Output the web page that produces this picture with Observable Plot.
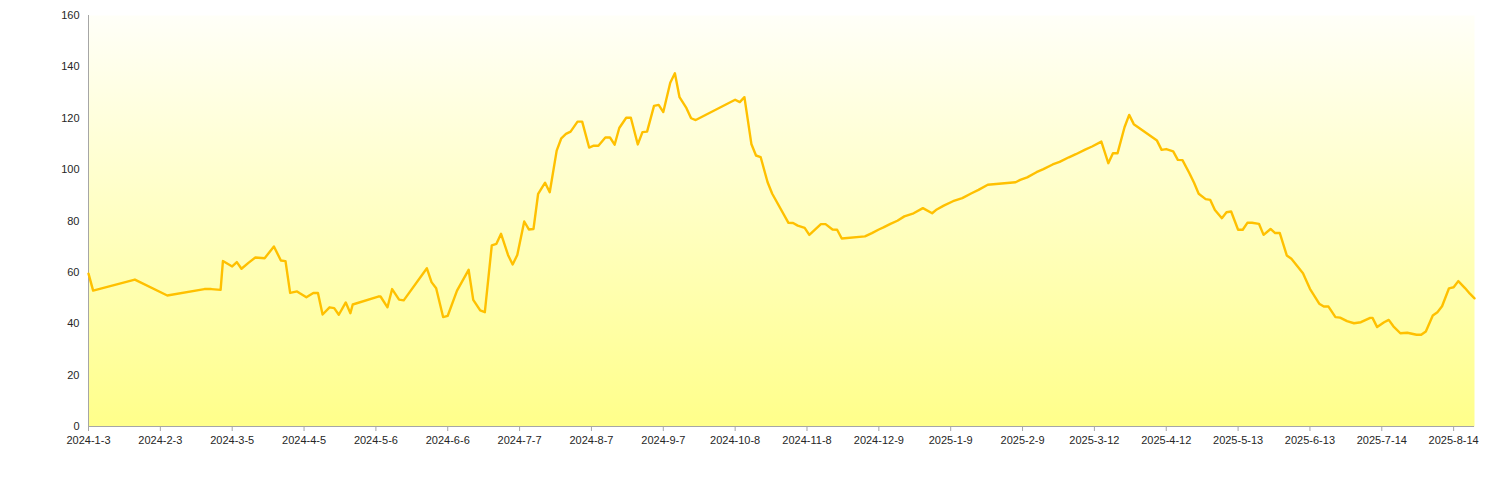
<!DOCTYPE html>
<html>
<head>
<meta charset="utf-8">
<script src="https://cdn.jsdelivr.net/npm/d3@7"></script>
<script src="https://cdn.jsdelivr.net/npm/@observablehq/plot@0.6"></script>
<style>
  html, body { margin: 0; padding: 0; background: #ffffff; }
  #chart { width: 1500px; height: 504px; }
  svg { display: block; }
</style>
</head>
<body>
<div id="chart"></div>
<script>
const dates = [
  "2024-01-03","2024-01-05","2024-01-23","2024-02-06","2024-02-22","2024-02-25","2024-02-29",
  "2024-03-01","2024-03-05","2024-03-07","2024-03-09","2024-03-12","2024-03-15","2024-03-19",
  "2024-03-23","2024-03-26","2024-03-28","2024-03-30","2024-04-02","2024-04-03","2024-04-06",
  "2024-04-09","2024-04-11","2024-04-13","2024-04-16","2024-04-18","2024-04-20","2024-04-23",
  "2024-04-25","2024-04-26","2024-05-07","2024-05-08","2024-05-11","2024-05-13","2024-05-16",
  "2024-05-18","2024-05-28","2024-05-30","2024-06-01","2024-06-04","2024-06-06","2024-06-10",
  "2024-06-15","2024-06-17","2024-06-20","2024-06-22","2024-06-25","2024-06-27","2024-06-29",
  "2024-07-02","2024-07-04","2024-07-06","2024-07-09","2024-07-11","2024-07-13","2024-07-15",
  "2024-07-18","2024-07-20","2024-07-23","2024-07-25","2024-07-27","2024-07-29","2024-08-01",
  "2024-08-03","2024-08-06","2024-08-08","2024-08-10","2024-08-13","2024-08-15","2024-08-17",
  "2024-08-19","2024-08-22","2024-08-24","2024-08-27","2024-08-29","2024-08-31","2024-09-03",
  "2024-09-05","2024-09-07","2024-09-10","2024-09-12","2024-09-14","2024-09-17","2024-09-19",
  "2024-09-21","2024-10-08","2024-10-10","2024-10-12","2024-10-15","2024-10-17","2024-10-19",
  "2024-10-22","2024-10-24","2024-10-31","2024-11-02","2024-11-04","2024-11-07","2024-11-09",
  "2024-11-14","2024-11-16","2024-11-19","2024-11-21","2024-11-23","2024-12-03","2024-12-06",
  "2024-12-09","2024-12-11","2024-12-14","2024-12-17","2024-12-20","2024-12-24","2024-12-28",
  "2025-01-01","2025-01-03","2025-01-06","2025-01-10","2025-01-14","2025-01-18","2025-01-21",
  "2025-01-25","2025-02-06","2025-02-08","2025-02-11","2025-02-15","2025-02-18","2025-02-22",
  "2025-02-25","2025-03-01","2025-03-04","2025-03-08","2025-03-11","2025-03-15","2025-03-18",
  "2025-03-20","2025-03-22","2025-03-25","2025-03-27","2025-03-29","2025-04-08","2025-04-10",
  "2025-04-12","2025-04-15","2025-04-17","2025-04-19","2025-04-22","2025-04-24","2025-04-26",
  "2025-04-29","2025-05-01","2025-05-03","2025-05-06","2025-05-08","2025-05-10","2025-05-13",
  "2025-05-15","2025-05-17","2025-05-19","2025-05-22","2025-05-24","2025-05-27","2025-05-29",
  "2025-05-31","2025-06-03","2025-06-05","2025-06-10","2025-06-13","2025-06-17","2025-06-19",
  "2025-06-21","2025-06-24","2025-06-26","2025-06-29","2025-07-02","2025-07-05","2025-07-09",
  "2025-07-10","2025-07-12","2025-07-15","2025-07-17","2025-07-19","2025-07-22","2025-07-25",
  "2025-07-29","2025-07-31","2025-08-02","2025-08-05","2025-08-07","2025-08-09","2025-08-12",
  "2025-08-14","2025-08-16","2025-08-19","2025-08-21","2025-08-23"
];
const values = [
  59.5,52.9,57.2,51,53.5,53.5,53.2,
  64.4,62.3,64,61.4,63.7,65.8,65.5,
  70.1,64.6,64.4,52,52.6,52,50.3,
  52,52,43.6,46.4,46.1,43.5,48.3,
  44.1,47.5,50.6,50.6,46.4,53.5,49.4,
  49.1,61.6,56.2,53.8,42.6,43.1,52.9,
  61,49.3,45.2,44.5,70.5,71.1,75,
  66.8,63.1,66.8,79.8,76.7,76.9,90.6,
  94.9,91.2,107.4,112.2,113.9,114.8,118.7,
  118.7,108.6,109.3,109.3,112.5,112.5,109.7,
  116.2,120.2,120.2,109.8,114.6,114.8,124.8,
  125.2,122.4,133.8,137.5,128.2,123.9,120,
  119.3,127.2,126.3,128.2,110,105.5,104.9,
  95.1,90.6,79.3,79.2,78.2,77.3,74.6,
  78.8,78.8,76.7,76.6,73.2,74,75.3,
  76.7,77.5,78.9,80.1,81.8,83,85,
  83,84.5,86,87.7,88.9,90.8,92.1,
  94.1,95.1,96,97,99,100.2,102,
  103,104.8,106,107.8,109,110.9,102.5,
  106.4,106.4,116.5,121.3,117.7,111.3,107.7,
  108,107.1,103.8,103.7,98.6,94.9,90.6,
  88.5,88.2,84.3,81.1,83.4,83.7,76.6,
  76.6,79.3,79.3,78.9,74.6,76.9,75.3,
  75.3,66.6,65.3,59.7,53.6,47.8,46.7,
  46.7,42.6,42.4,41,40.2,40.6,42.3,
  42.3,38.7,40.6,41.5,39,36.3,36.5,
  35.7,35.7,37,43.2,44.5,46.8,53.8,
  54.2,56.6,53.8,51.7,49.9
];
const xTickDates = [
  "2024-01-03","2024-02-03","2024-03-05","2024-04-05","2024-05-06","2024-06-06","2024-07-07",
  "2024-08-07","2024-09-07","2024-10-08","2024-11-08","2024-12-09","2025-01-09","2025-02-09",
  "2025-03-12","2025-04-12","2025-05-13","2025-06-13","2025-07-14","2025-08-14"
];
const yTicks = [0, 20, 40, 60, 80, 100, 120, 140, 160];

const parse = d3.utcParse("%Y-%m-%d");
const fmt = d3.utcFormat("%Y-%-m-%-d");
const data = dates.map((d, i) => ({date: parse(d), value: values[i]}));
const xTicks = xTickDates.map(parse);
const xDomain = [parse(dates[0]), parse(dates[dates.length - 1])];

const axisColor = "#a6a6a6";
const textColor = "#262626";

const chart = Plot.plot({
  width: 1500,
  height: 504,
  marginLeft: 88,
  marginRight: 26,
  marginTop: 15,
  marginBottom: 78,
  style: {fontFamily: "'Liberation Sans', Arial, sans-serif", fontSize: "11px", color: textColor, background: "transparent"},
  x: {type: "utc", domain: xDomain, axis: null},
  y: {domain: [0, 160], axis: null},
  marks: [
    Plot.frame({fill: "url(#bgGrad)", stroke: null}),
    Plot.ruleX([xDomain[0]], {stroke: axisColor, strokeWidth: 1}),
    Plot.ruleY([0], {stroke: axisColor, strokeWidth: 1}),
    Plot.axisX({ticks: xTicks, tickFormat: fmt, tickSize: 5, stroke: axisColor, tickPadding: 5, fill: textColor, fontSize: 11, label: null}),
    Plot.axisY({ticks: yTicks, tickSize: 0, tickPadding: 9, fill: textColor, fontSize: 11, label: null}),
    Plot.line(data, {x: "date", y: "value", stroke: "#FFC000", strokeWidth: 2.4, strokeLinejoin: "round", strokeLinecap: "round"})
  ]
});

const svg = d3.select(chart);
const defs = svg.insert("defs", ":first-child");
const grad = defs.append("linearGradient").attr("id", "bgGrad").attr("x1", 0).attr("y1", 0).attr("x2", 0).attr("y2", 1);
grad.append("stop").attr("offset", "0%").attr("stop-color", "#FFFFF8");
grad.append("stop").attr("offset", "100%").attr("stop-color", "#FFFF8A");

document.getElementById("chart").appendChild(chart);
</script>
</body>
</html>
